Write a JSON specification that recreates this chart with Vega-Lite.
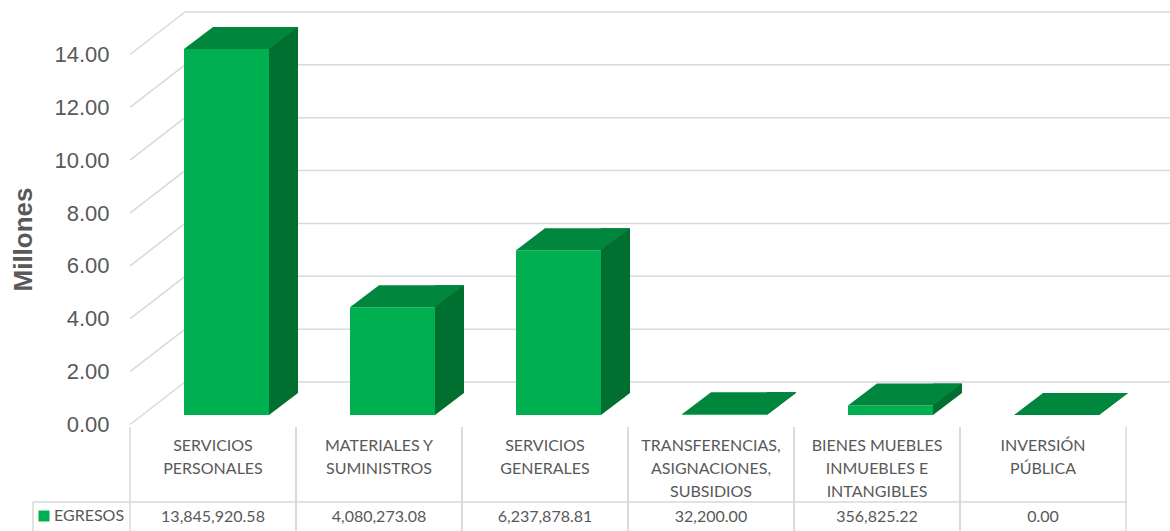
{
  "$schema": "https://vega.github.io/schema/vega-lite/v6.json",
  "width": 1055,
  "height": 531,
  "autosize": {"type": "none"},
  "padding": {"left": 115, "top": 0, "right": 0, "bottom": 0},
  "background": "white",
  "config": {
    "view": {"stroke": null},
    "axisY": {
      "labelExpr": "format(datum.value / 1000000, '.2f')",
      "domain": false,
      "domainOpacity": 0,
      "ticks": false,
      "tickOpacity": 0,
      "tickSize": 0,
      "grid": false,
      "labelPadding": 6,
      "labelOffset": 9.5,
      "labelFont": "Liberation Sans",
      "labelFontSize": 22,
      "labelColor": "#595959",
      "titleFont": "Liberation Sans",
      "titleFontSize": 26,
      "titleFontWeight": "bold",
      "titleColor": "#595959",
      "titleX": -78.5,
      "titleY": 239
    }
  },
  "datasets": {
    "gastos": [
      {"categoria": "SERVICIOS\nPERSONALES", "egresos": 13845920.58, "serie": "EGRESOS"},
      {"categoria": "MATERIALES Y\nSUMINISTROS", "egresos": 4080273.08, "serie": "EGRESOS"},
      {"categoria": "SERVICIOS\nGENERALES", "egresos": 6237878.81, "serie": "EGRESOS"},
      {"categoria": "TRANSFERENCIAS,\nASIGNACIONES,\nSUBSIDIOS", "egresos": 32200.00, "serie": "EGRESOS"},
      {"categoria": "BIENES MUEBLES\nINMUEBLES E\nINTANGIBLES", "egresos": 356825.22, "serie": "EGRESOS"},
      {"categoria": "INVERSIÓN\nPÚBLICA", "egresos": 0.00, "serie": "EGRESOS"}
    ],
    "ticks": [
      {"t": 0}, {"t": 2000000}, {"t": 4000000}, {"t": 6000000},
      {"t": 8000000}, {"t": 10000000}, {"t": 12000000}, {"t": 14000000}
    ],
    "uno": [{"k": 1}]
  },
  "layer": [
    {
      "data": {"name": "ticks"},
      "mark": {"type": "rule", "color": "#d9d9d9", "strokeWidth": 1.5, "yOffset": -33},
      "encoding": {
        "x": {"value": 70},
        "x2": {"value": 1055},
        "y": {
          "field": "t",
          "type": "quantitative",
          "scale": {"domain": [0, 14000000], "range": [415, 45], "nice": false, "zero": true},
          "axis": {"orient": "left", "title": "Millones", "values": [0, 2000000, 4000000, 6000000, 8000000, 10000000, 12000000, 14000000]}
        }
      }
    },
    {
      "data": {"name": "ticks"},
      "mark": {"type": "rule", "color": "#d9d9d9", "strokeWidth": 1.5, "yOffset": 9.5, "y2Offset": -33},
      "encoding": {
        "x": {"value": 15},
        "x2": {"value": 70},
        "y": {"field": "t", "type": "quantitative", "axis": {"orient": "left", "title": "Millones", "values": [0, 2000000, 4000000, 6000000, 8000000, 10000000, 12000000, 14000000]}},
        "y2": {"field": "t"}
      }
    },
    {
      "data": {"name": "gastos"},
      "mark": {"type": "bar", "color": "#006f30", "width": 29, "xOffset": 70.5, "yOffset": -22, "y2Offset": 0},
      "encoding": {
        "x": {
          "field": "categoria",
          "type": "nominal",
          "sort": null,
          "scale": {"range": [15, 1011], "paddingInner": 0, "paddingOuter": 0},
          "axis": null
        },
        "y": {"field": "egresos", "type": "quantitative", "axis": {"orient": "left", "title": "Millones", "values": [0, 2000000, 4000000, 6000000, 8000000, 10000000, 12000000, 14000000]}},
        "y2": {"datum": 0}
      }
    },
    {
      "data": {"name": "gastos"},
      "mark": {"type": "point", "shape": "M 0 0 L 29 0 L 29 -22 Z", "size": 4, "filled": true, "color": "white", "opacity": 1, "xOffset": 56},
      "encoding": {
        "x": {"field": "categoria", "type": "nominal", "sort": null, "axis": null},
        "y": {"datum": 0, "type": "quantitative", "axis": {"orient": "left", "title": "Millones", "values": [0, 2000000, 4000000, 6000000, 8000000, 10000000, 12000000, 14000000]}}
      }
    },
    {
      "data": {"name": "gastos"},
      "mark": {"type": "bar", "width": 85, "xOffset": 13.5},
      "encoding": {
        "x": {"field": "categoria", "type": "nominal", "sort": null, "axis": null},
        "y": {"field": "egresos", "type": "quantitative", "axis": {"orient": "left", "title": "Millones", "values": [0, 2000000, 4000000, 6000000, 8000000, 10000000, 12000000, 14000000]}},
        "y2": {"datum": 0},
        "color": {
          "field": "serie",
          "type": "nominal",
          "scale": {"range": ["#00b050"]},
          "legend": {
            "orient": "none",
            "legendX": -79,
            "legendY": 508,
            "title": null,
            "symbolType": "square",
            "symbolSize": 121,
            "symbolStrokeWidth": 0,
            "labelFont": "Lato",
            "labelFontSize": 16,
            "labelColor": "#595959",
            "labelOffset": 2,
            "padding": 0
          }
        }
      }
    },
    {
      "data": {"name": "gastos"},
      "mark": {"type": "point", "shape": "M -42.5 0 L 42.5 0 L 71.5 -22 L -13.5 -22 Z", "size": 4, "filled": true, "color": "#00863d", "opacity": 1, "xOffset": 13.5},
      "encoding": {
        "x": {"field": "categoria", "type": "nominal", "sort": null, "axis": null},
        "y": {"field": "egresos", "type": "quantitative", "axis": {"orient": "left", "title": "Millones", "values": [0, 2000000, 4000000, 6000000, 8000000, 10000000, 12000000, 14000000]}}
      }
    },
    {
      "data": {"name": "gastos"},
      "mark": {"type": "rule", "color": "#d9d9d9", "strokeWidth": 1.5},
      "encoding": {
        "x": {"field": "categoria", "type": "nominal", "sort": null, "bandPosition": 0, "axis": null},
        "y": {"value": 427},
        "y2": {"value": 531}
      }
    },
    {
      "data": {"name": "gastos"},
      "mark": {"type": "rule", "color": "#d9d9d9", "strokeWidth": 1.5},
      "encoding": {
        "x": {"field": "categoria", "type": "nominal", "sort": null, "bandPosition": 1, "axis": null},
        "y": {"value": 427},
        "y2": {"value": 531}
      }
    },
    {
      "data": {"name": "uno"},
      "mark": {"type": "rule", "color": "#d9d9d9", "strokeWidth": 1.5},
      "encoding": {
        "x": {"value": -82},
        "x2": {"value": 1011},
        "y": {"value": 502}
      }
    },
    {
      "data": {"name": "uno"},
      "mark": {"type": "rule", "color": "#d9d9d9", "strokeWidth": 1.5},
      "encoding": {
        "x": {"value": -82},
        "y": {"value": 502},
        "y2": {"value": 531}
      }
    },
    {
      "data": {"name": "gastos"},
      "mark": {"type": "text", "font": "Lato", "fontSize": 16, "color": "#595959", "align": "center", "baseline": "top", "lineBreak": "\n", "lineHeight": 23},
      "encoding": {
        "x": {"field": "categoria", "type": "nominal", "sort": null, "axis": null},
        "y": {"value": 438},
        "text": {"field": "categoria"}
      }
    },
    {
      "data": {"name": "gastos"},
      "mark": {"type": "text", "font": "Lato", "fontSize": 16, "color": "#595959", "align": "center", "baseline": "middle"},
      "encoding": {
        "x": {"field": "categoria", "type": "nominal", "sort": null, "axis": null},
        "y": {"value": 517},
        "text": {"field": "egresos", "type": "quantitative", "format": ",.2f"}
      }
    }
  ]
}
